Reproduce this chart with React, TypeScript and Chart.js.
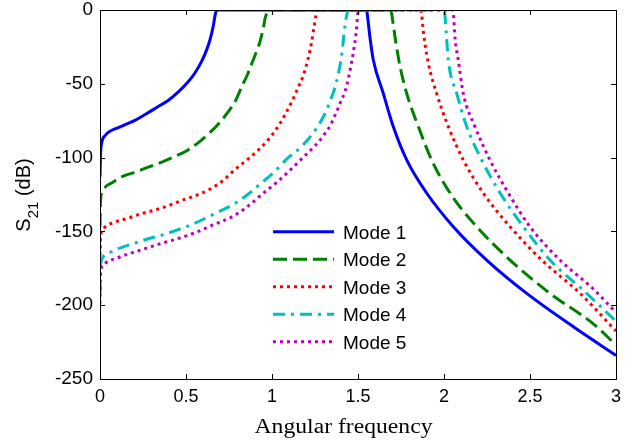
import React, { useEffect, useRef } from 'react';
import { Chart, registerables } from 'chart.js';

Chart.register(...registerables);

// ---------- data ----------
const xTicks = [0, 0.5, 1, 1.5, 2, 2.5, 3];
const yTicks = [0, -50, -100, -150, -200, -250];
const modeLabels = ['Mode 1', 'Mode 2', 'Mode 3', 'Mode 4', 'Mode 5'];
const xTitle = 'Angular frequency';
const yTitleMain = 'S';
const yTitleSub = '21';
const yTitleRest = ' (dB)';

const mode1X = [0, 0.003, 0.01, 0.03, 0.06, 0.1, 0.15, 0.2, 0.26, 0.33, 0.4, 0.46, 0.51, 0.55, 0.59, 0.62, 0.64, 0.66, 0.67, 0.68, 1.54, 1.55, 1.553, 1.57, 1.589, 1.647, 1.705, 1.783, 1.899, 2.054, 2.248, 2.481, 2.752, 3.0];
const mode1Y = [-113, -98, -90, -85, -82, -80, -77.5, -75, -71, -66, -61, -55, -49, -43, -35, -27, -20, -10, -3, 0, 0, 0, -2, -19, -33.9, -56.5, -79, -101.6, -124, -146.8, -169.4, -192, -214.6, -234];

const mode2X = [0, 0.003, 0.01, 0.03, 0.07, 0.126, 0.2, 0.28, 0.36, 0.44, 0.51, 0.57, 0.63, 0.69, 0.745, 0.79, 0.82, 0.86, 0.88, 0.91, 0.93, 0.95, 0.96, 0.975, 0.985, 1.69, 1.695, 1.705, 1.72, 1.744, 1.783, 1.851, 1.928, 2.035, 2.19, 2.384, 2.616, 2.868, 3.0];
const mode2Y = [-147, -130, -124, -120, -117, -113, -110, -106.5, -103, -99, -95, -90, -84, -77, -69, -61, -53, -43, -37, -28, -21.5, -12, -5.6, -1, 0, 0, -2, -10, -22, -38, -56.5, -79, -101.6, -124, -146.8, -169.4, -192, -212.6, -227];

const mode3X = [0, 0.003, 0.01, 0.03, 0.08, 0.165, 0.24, 0.32, 0.4, 0.475, 0.55, 0.63, 0.71, 0.785, 0.85, 0.9, 0.97, 1.035, 1.08, 1.12, 1.15, 1.18, 1.21, 1.23, 1.245, 1.255, 1.265, 1.865, 1.87, 1.88, 1.909, 1.957, 2.025, 2.112, 2.228, 2.384, 2.568, 2.791, 3.0];
const mode3Y = [-171, -155, -150, -147, -144, -141, -138, -135.5, -132.5, -129, -126, -122, -116, -108, -102, -97, -89, -79, -70, -61, -53, -45, -33, -22, -11, -4, 0, 0, -3, -14.7, -36, -56.5, -79, -101.6, -124, -146.8, -169.4, -192, -217.5];

const mode4X = [0, 0.003, 0.01, 0.047, 0.1, 0.2, 0.28, 0.36, 0.45, 0.55, 0.65, 0.785, 0.87, 0.94, 1.01, 1.085, 1.18, 1.26, 1.3, 1.337, 1.375, 1.405, 1.425, 1.435, 1.445, 2.0, 2.005, 2.015, 2.025, 2.074, 2.132, 2.219, 2.326, 2.461, 2.616, 2.83, 3.0];
const mode4Y = [-192, -175, -169, -165, -162, -158, -155, -152.5, -149, -144.5, -139, -131, -124, -117, -110, -101, -91.5, -80, -72, -62, -48.6, -30.5, -10, -3, 0, 0, -3, -19, -33.9, -56.5, -79, -101.6, -124, -146.8, -169.4, -192, -211];

const mode5X = [0, 0.003, 0.01, 0.03, 0.1, 0.2, 0.28, 0.36, 0.45, 0.55, 0.65, 0.785, 0.87, 0.94, 1.03, 1.11, 1.18, 1.25, 1.3, 1.34, 1.375, 1.4, 1.425, 1.445, 1.46, 1.475, 1.49, 1.497, 1.502, 2.05, 2.055, 2.064, 2.083, 2.112, 2.18, 2.267, 2.374, 2.5, 2.674, 2.868, 3.0];
const mode5Y = [-199, -180, -174, -171.5, -168, -164, -161, -158, -155, -151, -146, -139, -132, -125, -116.5, -108, -100, -92, -85, -78, -69, -62, -55, -46, -37, -27, -14.7, -5, 0, 0, -3, -19, -33.9, -56.5, -79, -101.6, -124, -146.8, -169.4, -189, -205];

// ---------- styles ----------
const modeColors = ['#0000FF', '#008000', '#FF0000', '#00BFBF', '#BF00BF'];
const modeDashes: number[][] = [[], [14, 6], [3, 4], [12, 6, 3, 6], [3, 4]];
const LINE_W = 3;
const TICK_LEN = 5;
const SANS = "'Liberation Sans', Arial, sans-serif";
const SERIF = "'Liberation Serif', 'Times New Roman', serif";

const modeXs = [mode1X, mode2X, mode3X, mode4X, mode5X];
const modeYs = [mode1Y, mode2Y, mode3Y, mode4Y, mode5Y];

const framePlugin = {
  id: 'frameAndLabels',
  afterDatasetsDraw(chart: any) {
    const { ctx, chartArea: a, scales } = chart;
    const xs = scales.x;
    const ys = scales.y;
    ctx.save();
    ctx.setLineDash([]);
    ctx.strokeStyle = '#000';
    ctx.lineWidth = 1;
    ctx.beginPath();
    for (const v of xTicks) {
      const p = Math.round(xs.getPixelForValue(v)) + 0.5;
      ctx.moveTo(p, a.bottom);
      ctx.lineTo(p, a.bottom - TICK_LEN);
      ctx.moveTo(p, a.top);
      ctx.lineTo(p, a.top + TICK_LEN);
    }
    for (const v of yTicks) {
      const p = Math.round(ys.getPixelForValue(v)) + 0.5;
      ctx.moveTo(a.left, p);
      ctx.lineTo(a.left + TICK_LEN, p);
      ctx.moveTo(a.right, p);
      ctx.lineTo(a.right - TICK_LEN, p);
    }
    ctx.stroke();
    ctx.strokeRect(Math.round(a.left) + 0.5, Math.round(a.top) + 0.5, Math.round(a.right - a.left), Math.round(a.bottom - a.top));
    ctx.restore();
  },
  afterDraw(chart: any) {
    const { ctx, chartArea: a } = chart;
    ctx.save();
    // legend
    const lx0 = a.left + 173;
    const lx1 = a.left + 234;
    const ly0 = a.top + 221.7;
    const lstep = 27.5;
    ctx.font = `19px ${SANS}`;
    ctx.fillStyle = '#000';
    ctx.textAlign = 'left';
    ctx.textBaseline = 'alphabetic';
    modeLabels.forEach((lab, i) => {
      const y = ly0 + i * lstep;
      ctx.save();
      ctx.strokeStyle = modeColors[i];
      ctx.lineWidth = LINE_W;
      ctx.lineCap = 'butt';
      ctx.setLineDash(modeDashes[i]);
      ctx.beginPath();
      ctx.moveTo(lx0, y);
      ctx.lineTo(lx1, y);
      ctx.stroke();
      ctx.restore();
      ctx.fillText(lab, lx1 + 9, y + 6.8);
    });

    // x title
    ctx.save();
    ctx.font = `20px ${SERIF}`;
    const w = ctx.measureText(xTitle).width;
    const sx = 178 / w;
    ctx.translate(343.5, 433);
    ctx.scale(sx, 1);
    ctx.textAlign = 'center';
    ctx.fillText(xTitle, 0, 0);
    ctx.restore();

    // y title
    ctx.save();
    ctx.translate(30, 195);
    ctx.rotate(-Math.PI / 2);
    ctx.textAlign = 'left';
    const mainFont = `20px ${SANS}`;
    const subFont = `15px ${SANS}`;
    ctx.font = mainFont;
    const w1 = ctx.measureText(yTitleMain).width;
    const w3 = ctx.measureText(yTitleRest).width;
    ctx.font = subFont;
    const w2 = ctx.measureText(yTitleSub).width;
    let x = -(w1 + w2 + w3) / 2;
    ctx.font = mainFont;
    ctx.fillText(yTitleMain, x, 0);
    x += w1;
    ctx.font = subFont;
    ctx.fillText(yTitleSub, x, 8);
    x += w2;
    ctx.font = mainFont;
    ctx.fillText(yTitleRest, x, 0);
    ctx.restore();

    ctx.restore();
  },
};

export default function App() {
  const ref = useRef<HTMLCanvasElement>(null);
  useEffect(() => {
    document.body.style.margin = '0';
    const canvas = ref.current;
    if (!canvas) return;
    const datasets = modeLabels.map((label, i) => ({
      label,
      data: modeXs[i].map((x, j) => ({ x, y: modeYs[i][j] })),
      borderColor: modeColors[i],
      backgroundColor: modeColors[i],
      borderWidth: LINE_W,
      borderDash: modeDashes[i],
      borderCapStyle: 'butt' as const,
      pointRadius: 0,
      pointHoverRadius: 0,
      fill: false,
      cubicInterpolationMode: 'monotone' as const,
      clip: 0,
      order: 5 - i,
    }));
    const chart = new Chart(canvas, {
      type: 'line',
      data: { datasets },
      options: {
        animation: false,
        responsive: false,
        events: [],
        layout: { padding: { top: 10, right: 13, left: 0, bottom: 0 } },
        plugins: {
          legend: { display: false },
          tooltip: { enabled: false },
          title: { display: false },
        },
        scales: {
          x: {
            type: 'linear',
            min: 0,
            max: 3,
            grid: { display: false, drawTicks: false },
            border: { display: false },
            afterBuildTicks: (s: any) => {
              s.ticks = xTicks.map((v) => ({ value: v }));
            },
            afterFit: (s: any) => {
              s.height = 63;
              s.paddingLeft = 0;
              s.paddingRight = 0;
            },
            ticks: {
              color: '#000',
              font: { family: SANS, size: 18 },
              padding: 7,
              maxRotation: 0,
              autoSkip: false,
              callback: (v: any) => String(v),
            },
          },
          y: {
            type: 'linear',
            min: -250,
            max: 0,
            grid: { display: false, drawTicks: false },
            border: { display: false },
            afterBuildTicks: (s: any) => {
              s.ticks = yTicks.map((v) => ({ value: v }));
            },
            afterFit: (s: any) => {
              s.width = 100;
              s.paddingTop = 0;
              s.paddingBottom = 0;
            },
            ticks: {
              color: '#000',
              font: { family: SANS, size: 19 },
              padding: 7,
              autoSkip: false,
              callback: (v: any) => String(v),
            },
          },
        },
      },
      plugins: [framePlugin],
    });
    return () => chart.destroy();
  }, []);
  return <canvas ref={ref} width={629} height={442} style={{ display: 'block' }} />;
}
